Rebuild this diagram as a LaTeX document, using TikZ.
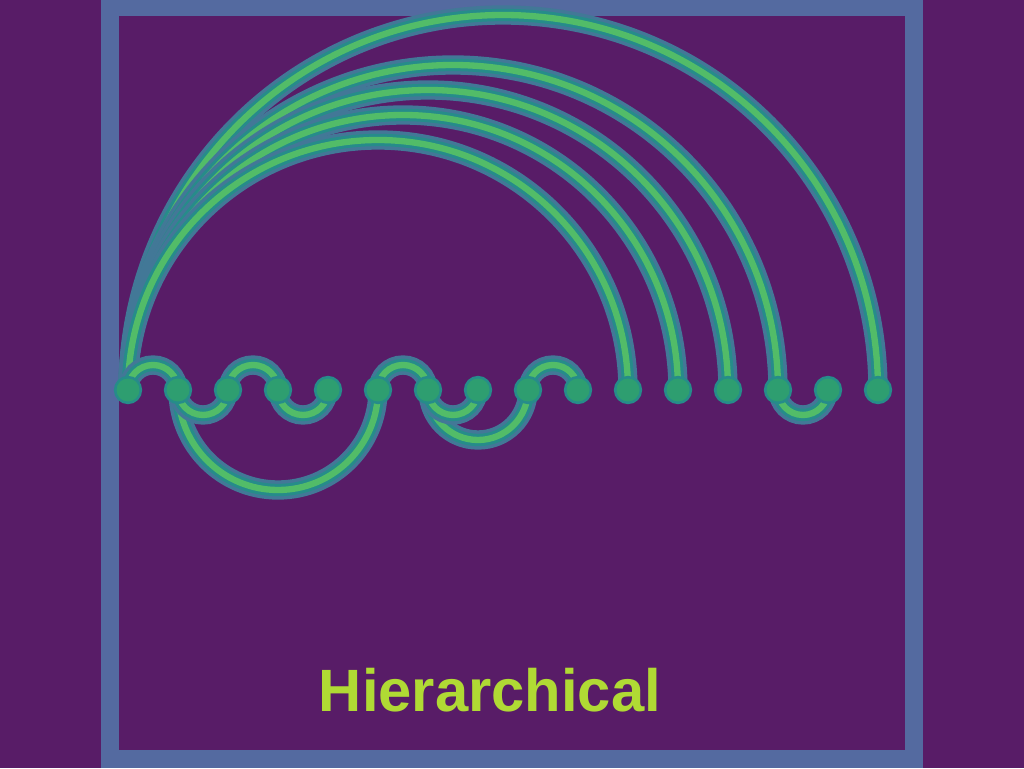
\documentclass[tikz,border=0pt]{standalone}
\usepackage{fontspec}
\setmainfont{Liberation Sans}
\usetikzlibrary{calc}
\definecolor{bgpurple}{RGB}{88,28,103}
\definecolor{framecol}{RGB}{84,106,160}
\definecolor{halocol}{RGB}{38,140,138}
\definecolor{corecol}{RGB}{82,188,104}
\definecolor{dotcol}{RGB}{46,158,112}
\definecolor{labelcol}{RGB}{176,218,52}

\begin{document}
\begin{tikzpicture}[x=0.02cm,y=0.02cm,line cap=round,
  arcline/.style={draw=corecol,line width=3.6pt,
    preaction={draw=framecol!60!halocol,line width=11pt},
    preaction={draw=halocol,line width=7pt}},
  dot/.style={circle,fill=dotcol,minimum size=0.46cm,inner sep=0pt,
    preaction={draw=halocol,line width=3pt}}]
\useasboundingbox (0,0) rectangle (1024,768);
\fill[bgpurple] (0,0) rectangle (1024,768);
\draw[framecol,line width=10pt] (110,9) rectangle (914,761);
% points of the row
\foreach \i in {0,...,15}
  \coordinate (p\i) at ({128+50*\i},378);
% arcs over the row
\foreach \a/\b in {0/15,0/13,0/12,0/11,0/10,0/1,2/3,5/6,8/9}
  \draw[arcline] let \p1=(p\a), \p2=(p\b) in
    (\p1) arc[start angle=180,end angle=0,radius={(\x2-\x1)/2}];
% arcs under the row
\foreach \a/\b in {1/5,6/8,1/2,3/4,6/7,13/14}
  \draw[arcline] let \p1=(p\a), \p2=(p\b) in
    (\p1) arc[start angle=180,end angle=360,radius={(\x2-\x1)/2}];
\foreach \i in {0,...,15}
  \node[dot] (n\i) at (p\i) {};
\node[text=labelcol,font=\bfseries\fontsize{34}{34}\selectfont] (title) at (490,78) {Hierarchical};
\end{tikzpicture}
\end{document}
